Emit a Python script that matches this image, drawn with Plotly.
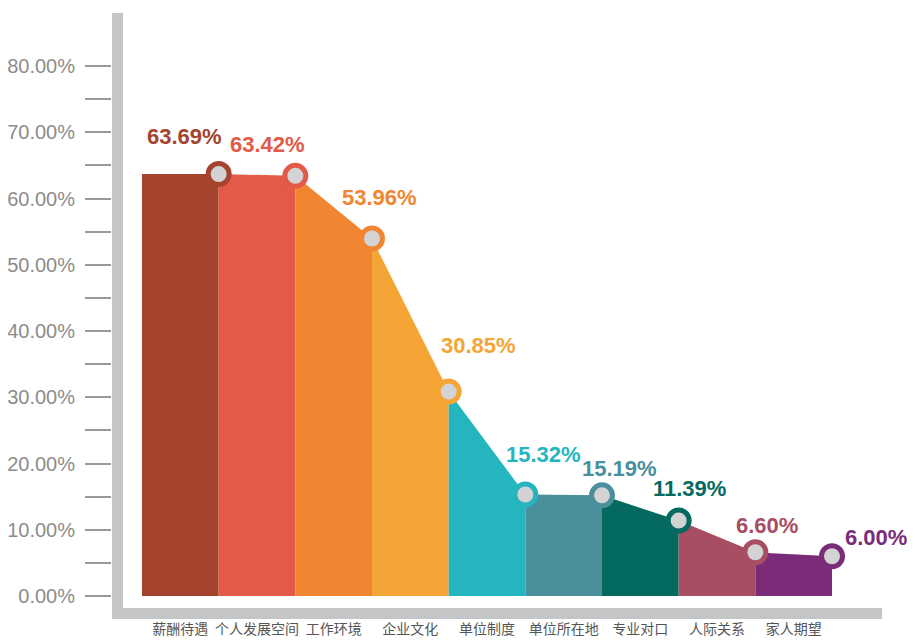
import plotly.graph_objects as go

categories = ["薪酬待遇", "个人发展空间", "工作环境", "企业文化", "单位制度",
              "单位所在地", "专业对口", "人际关系", "家人期望"]
values = [63.69, 63.42, 53.96, 30.85, 15.32, 15.19, 11.39, 6.60, 6.00]
ytick_vals = [0, 5, 10, 15, 20, 25, 30, 35, 40, 45, 50, 55, 60, 65, 70, 75, 80]
ytick_text = ["0.00%", "", "10.00%", "", "20.00%", "", "30.00%", "", "40.00%", "",
              "50.00%", "", "60.00%", "", "70.00%", "", "80.00%"]

colors = ["#A5442E", "#E35A48", "#F08631", "#F5A535", "#25B5BE",
          "#4A8F9C", "#04695F", "#A74E62", "#7A2C79"]
# label offsets (px) relative to each marker
label_offsets = [(-34, 38), (-28, 31), (7, 41), (30, 46), (18, 40),
                 (17, 27), (11, 32), (12, 27), (44, 19)]

# page body has an 8px default margin: figure is sized/offset to fill the window
PAGE_OFF = 8
W, H = 915 - PAGE_OFF, 642 - PAGE_OFF
PL, PR, PT, PB = 112, 882, 13, 619  # plot area in window pixels

fig = go.Figure()
n = len(values)
for i in range(n):
    left_top = values[i - 1] if i > 0 else values[0]
    fig.add_trace(go.Scatter(
        x=[i, i, i + 1, i + 1], y=[0, left_top, values[i], 0],
        fill="toself", fillcolor=colors[i], mode="lines",
        line=dict(width=0, color=colors[i]), hoverinfo="skip", showlegend=False))

fig.add_trace(go.Scatter(
    x=[i + 1 for i in range(n)], y=values, mode="markers",
    marker=dict(size=21, color="#D3D3D5", line=dict(width=5, color=colors)),
    showlegend=False, hoverinfo="skip"))

for i in range(n):
    fig.add_annotation(
        x=i + 1, y=values[i], text=f"{values[i]:.2f}%", showarrow=False,
        xshift=label_offsets[i][0], yshift=label_offsets[i][1],
        font=dict(family="Liberation Sans, Arial", size=22, color=colors[i], weight="bold"))

pw, ph = PR - PL, PB - PT
fig.add_shape(type="rect", xref="paper", yref="paper", x0=0, x1=11 / pw, y0=0, y1=1,
              fillcolor="#C4C5C7", line=dict(width=0), layer="below")
fig.add_shape(type="rect", xref="paper", yref="paper", x0=0, x1=1, y0=0, y1=11 / ph,
              fillcolor="#C4C5C7", line=dict(width=0), layer="below")

unit_x = (832 - 142) / n
unit_y = (596 - 66) / 80
fig.update_layout(
    width=W, height=H,
    margin=dict(l=PL - PAGE_OFF, r=915 - PR, t=PT - PAGE_OFF, b=642 - PB, pad=0),
    plot_bgcolor="white", paper_bgcolor="white",
    xaxis=dict(range=[-(142 - PL) / unit_x, n + (PR - 832) / unit_x],
               tickvals=[i + 0.5 for i in range(n)], ticktext=categories,
               tickangle=0, automargin=False,
               showgrid=False, zeroline=False, showline=False, ticks="",
               tickfont=dict(family="Noto Sans CJK SC", size=14, color="#555555")),
    yaxis=dict(range=[-(PB - 596) / unit_y, (596 - PT) / unit_y],
               tickvals=ytick_vals, ticktext=ytick_text, automargin=False,
               showgrid=False, zeroline=False, showline=False,
               ticks="outside", ticklen=26, tickwidth=2, tickcolor="#9A9A9A",
               ticklabelstandoff=6,
               tickfont=dict(family="Liberation Sans, Arial", size=20, color="#8C8C8C")),
)

fig.write_html("out.html")
